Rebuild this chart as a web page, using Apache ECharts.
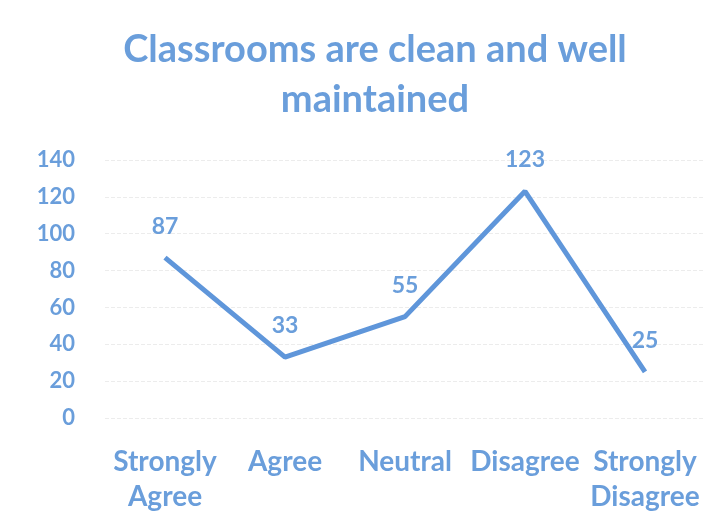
<!DOCTYPE html>
<html>
<head>
<meta charset="utf-8">
<script src="https://cdn.jsdelivr.net/npm/echarts@6/dist/echarts.min.js"></script>
<style>html,body{margin:0;padding:0;background:#fff}#c{width:720px;height:528px}</style>
</head>
<body>
<div id="c"></div>
<script>
var titleText = 'Classrooms are clean and well\nmaintained';
var categories = ['Strongly\nAgree', 'Agree', 'Neutral', 'Disagree', 'Strongly\nDisagree'];
var values = [87, 33, 55, 123, 25];
var yMin = 0, yMax = 140, yStep = 20;

var textColor = '#6a9edb';
var chart = echarts.init(document.getElementById('c'));
chart.setOption({
  backgroundColor: '#ffffff',
  title: {
    text: titleText,
    left: 370,
    textAlign: 'center',
    top: 20,
    textStyle: {
      color: textColor, fontFamily: 'Lato', fontWeight: 'bold',
      fontSize: 38, lineHeight: 50
    }
  },
  grid: { left: 105, right: 15, top: 160, bottom: 110 },
  xAxis: {
    type: 'category',
    data: categories,
    axisLine: { show: false },
    axisTick: { show: false },
    axisLabel: {
      color: textColor, fontFamily: 'Lato', fontSize: 28, fontWeight: 'bold',
      lineHeight: 35, margin: 26, interval: 0
    }
  },
  yAxis: {
    type: 'value',
    min: yMin, max: yMax, interval: yStep,
    axisLine: { show: false },
    axisTick: { show: false },
    axisLabel: {
      color: textColor, fontFamily: 'Lato', fontSize: 22, fontWeight: 'bold', margin: 30
    },
    splitLine: { lineStyle: { color: '#ececec', type: 'dashed', width: 1 } }
  },
  series: [{
    type: 'line',
    data: values,
    showSymbol: true,
    symbol: 'circle',
    symbolSize: 0,
    lineStyle: { color: '#5f96da', width: 5 },
    itemStyle: { color: '#5f96da' },
    label: {
      show: true, position: 'top', distance: 20,
      color: textColor, fontFamily: 'Lato', fontSize: 23, fontWeight: 'bold'
    },
    animation: false
  }]
});
</script>
</body>
</html>
